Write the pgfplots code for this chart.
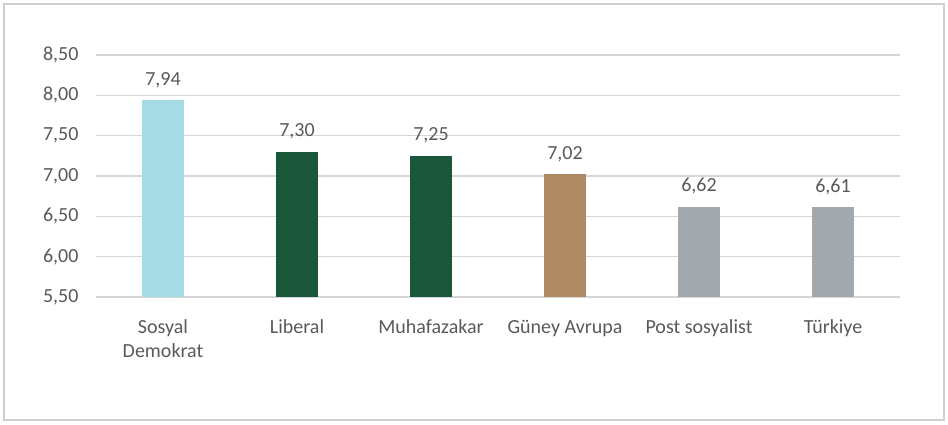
\documentclass[border=0pt]{standalone}
\usepackage{fontspec}
\setmainfont{Carlito}
\usepackage{pgfplots}
\pgfplotsset{compat=1.18}
\definecolor{txt}{HTML}{595959}
\definecolor{gridc}{HTML}{D6D6D6}
\definecolor{frame}{HTML}{D0D0D0}
\definecolor{cA}{HTML}{A4DBE4}
\definecolor{cB}{HTML}{1B573A}
\definecolor{cC}{HTML}{B08A62}
\definecolor{cD}{HTML}{A3A8AD}
\begin{document}
\begin{tikzpicture}[x=1pt,y=1pt]
\path[use as bounding box] (0,0) rectangle (948,424);
\draw[frame, line width=1.5pt] (4,4) rectangle (944,420);
\begin{axis}[
  at={(96pt,127pt)}, anchor=south west,
  scale only axis, width=804pt, height=242pt,
  ybar, bar width=42.7pt, bar shift=0pt,
  xmin=-0.5, xmax=5.5, ymin=5.5, ymax=8.5,
  ytick={5.5,6,6.5,7,7.5,8,8.5},
  xtick={0,1,2,3,4,5},
  xticklabels={{Sosyal\\Demokrat},Liberal,Muhafazakar,{Güney Avrupa},{Post sosyalist},Türkiye},
  axis line style={draw=none}, tick style={draw=none},
  ymajorgrids, grid style={gridc, line width=1.5pt},
  /pgf/number format/.cd, use comma, fixed, fixed zerofill, precision=2, assume math mode=true,
  /pgfplots/.cd,
  ticklabel style={font=\fontsize{20}{24}\selectfont, text=txt},
  yticklabel style={xshift=-14pt},
  xticklabel style={align=center, yshift=-15pt},
  nodes near coords,
  nodes near coords style={font=\fontsize{20}{24}\selectfont, text=txt, yshift=9pt},
  clip=false,
]
\addplot[fill=cA, draw=none] coordinates {(0,7.94)};
\addplot[fill=cB, draw=none] coordinates {(1,7.30)};
\addplot[fill=cB, draw=none] coordinates {(2,7.25)};
\addplot[fill=cC, draw=none] coordinates {(3,7.02)};
\addplot[fill=cD, draw=none] coordinates {(4,6.62)};
\addplot[fill=cD, draw=none] coordinates {(5,6.61)};
\end{axis}
\end{tikzpicture}
\end{document}
